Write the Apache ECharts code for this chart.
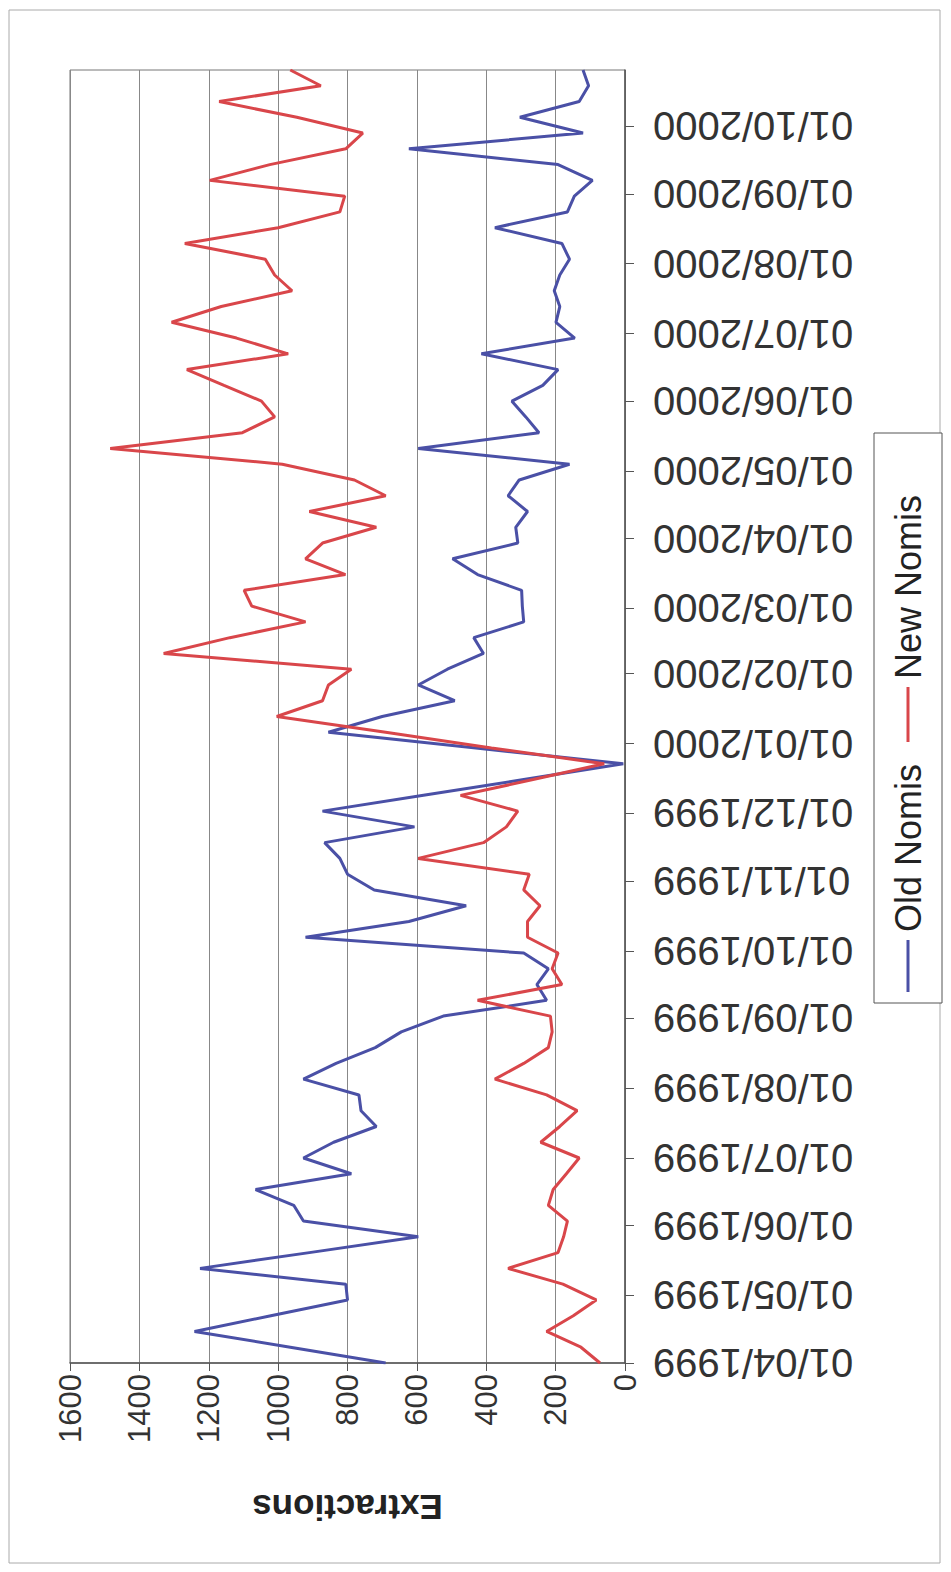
<!DOCTYPE html>
<html><head><meta charset="utf-8">
<script src="https://cdn.jsdelivr.net/npm/echarts@6/dist/echarts.min.js"></script>
<style>html,body{margin:0;padding:0;background:#fff;} #chart{width:951px;height:1572px;}</style>
</head><body><div id="chart"></div>
<script>
const weekDates = [
'1999-04-01','1999-04-08','1999-04-15','1999-04-22','1999-04-29',
'1999-05-06','1999-05-13','1999-05-20','1999-05-27',
'1999-06-03','1999-06-10','1999-06-17','1999-06-24',
'1999-07-01','1999-07-08','1999-07-15','1999-07-22','1999-07-29',
'1999-08-05','1999-08-12','1999-08-19','1999-08-26',
'1999-09-02','1999-09-09','1999-09-16','1999-09-23','1999-09-30',
'1999-10-07','1999-10-14','1999-10-21','1999-10-28',
'1999-11-04','1999-11-11','1999-11-18','1999-11-25',
'1999-12-02','1999-12-09','1999-12-16','1999-12-23','1999-12-30',
'2000-01-06','2000-01-13','2000-01-20','2000-01-27',
'2000-02-03','2000-02-10','2000-02-17','2000-02-24',
'2000-03-02','2000-03-09','2000-03-16','2000-03-23','2000-03-30',
'2000-04-06','2000-04-13','2000-04-20','2000-04-27',
'2000-05-04','2000-05-11','2000-05-18','2000-05-25',
'2000-06-01','2000-06-08','2000-06-15','2000-06-22','2000-06-29',
'2000-07-06','2000-07-13','2000-07-20','2000-07-27',
'2000-08-03','2000-08-10','2000-08-17','2000-08-24','2000-08-31',
'2000-09-07','2000-09-14','2000-09-21','2000-09-28',
'2000-10-05','2000-10-12','2000-10-19','2000-10-26'
];
const oldNomis = [
690,965,1241,1021,800,805,1225,910,596,927,955,1065,789,927,840,717,761,767,927,833,
720,645,524,226,254,221,292,921,623,458,723,800,822,866,607,872,581,292,5,430,
855,700,491,596,512,408,436,292,296,298,425,497,309,315,281,337,305,160,596,248,
286,326,237,193,414,145,199,188,204,188,160,182,375,166,146,94,193,623,121,303,
132,105,121
];
const newNomis = [
72,127,226,149,83,179,337,193,177,166,221,207,169,132,243,188,138,226,375,292,
221,210,215,425,182,210,193,281,281,245,292,276,596,408,342,309,474,265,60,385,
690,1004,872,855,789,1330,1139,921,1076,1098,806,921,872,717,910,690,780,988,1484,1103,
1010,1048,1156,1263,971,1120,1307,1164,960,1010,1037,1269,1000,822,808,1197,1024,805,756,946,
1170,877,965
];
const monthTickLabels = [
'01/04/1999','01/05/1999','01/06/1999','01/07/1999','01/08/1999','01/09/1999',
'01/10/1999','01/11/1999','01/12/1999','01/01/2000','01/02/2000','01/03/2000',
'01/04/2000','01/05/2000','01/06/2000','01/07/2000','01/08/2000','01/09/2000','01/10/2000'
];
const seriesNames = ['Old Nomis','New Nomis'];
const axisTitle = 'Extractions';

const BLUE = '#4a50a6', RED = '#d9464a';
const FONT = '"Liberation Sans", Arial, sans-serif';
const DAY = 86400000;

// dates expressed as day numbers (UTC) so the date axis is a plain linear scale
function isoToDay(s){ const p = s.split('-').map(Number); return Date.UTC(p[0], p[1]-1, p[2]) / DAY; }
function dmyToDay(s){ const p = s.split('/').map(Number); return Date.UTC(p[2], p[1]-1, p[0]) / DAY; }
const tickDays = monthTickLabels.map(dmyToDay);
const labelByDay = {};
tickDays.forEach((t,i)=>{ labelByDay[t] = monthTickLabels[i]; });

const chart = echarts.init(document.getElementById('chart'), null, {renderer:'svg'});
chart.setOption({
  animation:false,
  backgroundColor:'#fff',
  grid:{left:70, right:326, top:70, bottom:209, show:true, borderColor:'#777', borderWidth:1, containLabel:false},
  xAxis:{
    type:'value', min:0, max:1600, interval:200, inverse:true, position:'bottom',
    axisLine:{show:true, onZero:false, lineStyle:{color:'#555', width:1.5}},
    axisTick:{show:true, length:8, lineStyle:{color:'#555'}},
    axisLabel:{rotate:90, fontSize:31, color:'#333', margin:11, fontFamily:FONT,
      formatter:function(v){ return String(v); }},
    splitLine:{show:true, lineStyle:{color:'#888', width:1}},
    name:axisTitle, nameLocation:'middle', nameGap:127, nameRotate:180,
    nameTextStyle:{fontSize:35, fontWeight:'bold', color:'#222', fontFamily:FONT}
  },
  yAxis:{
    type:'value', min:isoToDay(weekDates[0]), max:isoToDay(weekDates[weekDates.length-1]), position:'right',
    axisLine:{show:true, onZero:false, lineStyle:{color:'#555', width:1.5}},
    axisTick:{show:true, length:9, customValues:tickDays, lineStyle:{color:'#555'}},
    axisLabel:{customValues:tickDays, rotate:180, fontSize:40, color:'#333', margin:28, fontFamily:FONT,
      formatter:function(v){ return labelByDay[v] || ''; }},
    splitLine:{show:false}
  },
  series:[
    {name:seriesNames[0], type:'line', showSymbol:false, lineStyle:{color:BLUE, width:3}, itemStyle:{color:BLUE},
     data:weekDates.map((d,i)=>[oldNomis[i], isoToDay(d)])},
    {name:seriesNames[1], type:'line', showSymbol:false, lineStyle:{color:RED, width:3}, itemStyle:{color:RED},
     data:weekDates.map((d,i)=>[newNomis[i], isoToDay(d)])}
  ],
  graphic:[
    {type:'rect', z:-1, shape:{x:9, y:10, width:931, height:1553}, style:{fill:'none', stroke:'#aaa', lineWidth:1}},
    {type:'rect', shape:{x:874, y:433, width:68, height:570}, style:{fill:'#fff', stroke:'#555', lineWidth:1}},
    {type:'group', x:908, y:992, rotation:Math.PI/2, children:[
      {type:'line', shape:{x1:0, y1:0, x2:52, y2:0}, style:{stroke:BLUE, lineWidth:3}},
      {type:'text', x:60, y:0, style:{text:seriesNames[0], fontSize:36, fontFamily:FONT, fill:'#222', verticalAlign:'middle', align:'left'}},
      {type:'line', shape:{x1:250, y1:0, x2:305, y2:0}, style:{stroke:RED, lineWidth:3}},
      {type:'text', x:313, y:0, style:{text:seriesNames[1], fontSize:36, fontFamily:FONT, fill:'#222', verticalAlign:'middle', align:'left'}}
    ]}
  ]
});
</script></body></html>
